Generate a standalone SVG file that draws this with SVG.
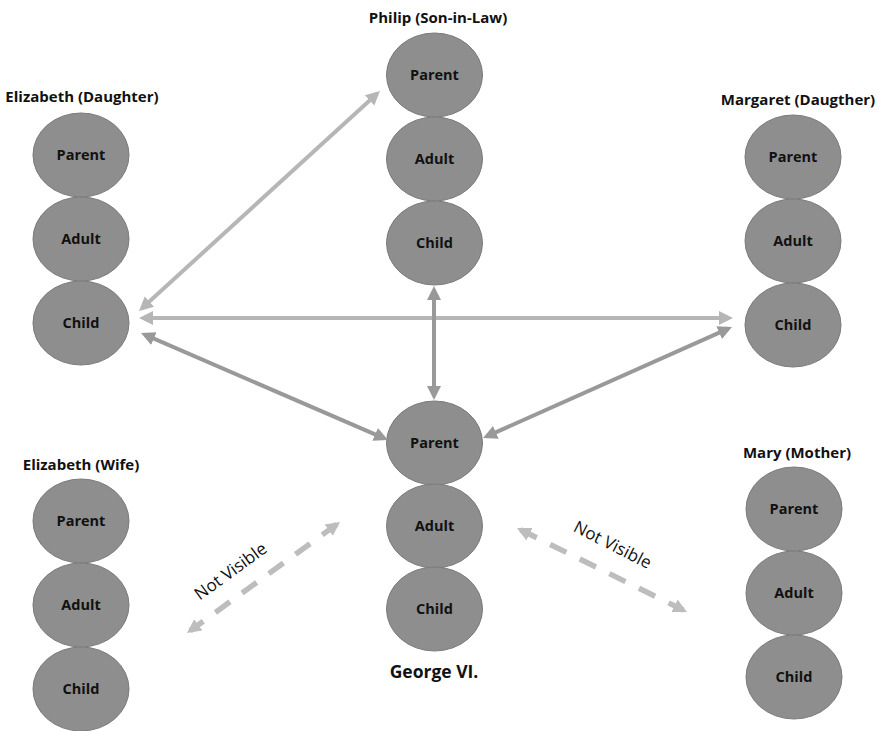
<svg xmlns="http://www.w3.org/2000/svg" width="879" height="731" viewBox="0 0 879 731">
  <style>
    .bg { fill: #ffffff; }
    .ell { fill: #8e8e8e; stroke: #7b7b7b; stroke-width: 1; }
    .lbl { font-family: "Open Sans", "Liberation Sans", sans-serif; font-weight: 700; font-size: 14.5px; fill: #111111; text-anchor: middle; }
    .title { font-family: "Open Sans", "Liberation Sans", sans-serif; font-weight: 700; font-size: 15px; fill: #111111; text-anchor: middle; }
    .big { font-size: 17.5px; }
    .note { font-family: "Open Sans", "Liberation Sans", sans-serif; font-weight: 400; font-size: 17px; fill: #111111; text-anchor: middle; }
    .light { fill: none; stroke: #b6b6b6; stroke-width: 4; marker-start: url(#headLight); marker-end: url(#headLight); }
    .dark { fill: none; stroke: #999999; stroke-width: 4; marker-start: url(#headDark); marker-end: url(#headDark); }
    .dash { fill: none; stroke: #bdbdbd; stroke-width: 5.5; stroke-dasharray: 18 15; marker-start: url(#headDash); marker-end: url(#headDash); }
  </style>
  <defs>
    <marker id="headLight" viewBox="0 0 16 16" markerUnits="userSpaceOnUse" markerWidth="16" markerHeight="16" refX="10" refY="8" orient="auto-start-reverse">
      <path d="M0,1 L14,8 L0,15 Z" fill="#b6b6b6"/>
    </marker>
    <marker id="headDark" viewBox="0 0 16 16" markerUnits="userSpaceOnUse" markerWidth="16" markerHeight="16" refX="10" refY="8" orient="auto-start-reverse">
      <path d="M0,1 L14,8 L0,15 Z" fill="#999999"/>
    </marker>
    <marker id="headDash" viewBox="0 0 16 16" markerUnits="userSpaceOnUse" markerWidth="16" markerHeight="16" refX="10" refY="8" orient="auto-start-reverse">
      <path d="M0,1 L14,8 L0,15 Z" fill="#bdbdbd"/>
    </marker>
  </defs>

  <rect class="bg" x="0" y="0" width="879" height="731"/>

  <!-- Elizabeth (Daughter) -->
  <g id="elizabeth-daughter">
    <text class="title" x="82" y="102">Elizabeth (Daughter)</text>
    <ellipse class="ell" cx="81" cy="155" rx="48" ry="42"/>
    <ellipse class="ell" cx="81" cy="239" rx="48" ry="42"/>
    <ellipse class="ell" cx="81" cy="323" rx="48" ry="42"/>
    <text class="lbl" x="81" y="160">Parent</text>
    <text class="lbl" x="81" y="244">Adult</text>
    <text class="lbl" x="81" y="328">Child</text>
  </g>

  <!-- Philip (Son-in-Law) -->
  <g id="philip">
    <text class="title" x="438" y="23">Philip (Son-in-Law)</text>
    <ellipse class="ell" cx="434.5" cy="75" rx="48" ry="42"/>
    <ellipse class="ell" cx="434.5" cy="159" rx="48" ry="42"/>
    <ellipse class="ell" cx="434.5" cy="243" rx="48" ry="42"/>
    <text class="lbl" x="434.5" y="80">Parent</text>
    <text class="lbl" x="434.5" y="164">Adult</text>
    <text class="lbl" x="434.5" y="248">Child</text>
  </g>

  <!-- Margaret (Daugther) -->
  <g id="margaret">
    <text class="title" x="798" y="105">Margaret (Daugther)</text>
    <ellipse class="ell" cx="793" cy="157" rx="48" ry="42"/>
    <ellipse class="ell" cx="793" cy="241" rx="48" ry="42"/>
    <ellipse class="ell" cx="793" cy="325" rx="48" ry="42"/>
    <text class="lbl" x="793" y="162">Parent</text>
    <text class="lbl" x="793" y="246">Adult</text>
    <text class="lbl" x="793" y="330">Child</text>
  </g>

  <!-- Elizabeth (Wife) -->
  <g id="elizabeth-wife">
    <text class="title" x="81" y="470">Elizabeth (Wife)</text>
    <ellipse class="ell" cx="81" cy="521" rx="48" ry="42"/>
    <ellipse class="ell" cx="81" cy="605" rx="48" ry="42"/>
    <ellipse class="ell" cx="81" cy="689" rx="48" ry="42"/>
    <text class="lbl" x="81" y="526">Parent</text>
    <text class="lbl" x="81" y="610">Adult</text>
    <text class="lbl" x="81" y="694">Child</text>
  </g>

  <!-- George VI. -->
  <g id="george">
    <ellipse class="ell" cx="434.5" cy="443" rx="48" ry="42"/>
    <ellipse class="ell" cx="434.5" cy="526" rx="48" ry="42"/>
    <ellipse class="ell" cx="434.5" cy="609" rx="48" ry="42"/>
    <text class="lbl" x="434.5" y="448">Parent</text>
    <text class="lbl" x="434.5" y="531">Adult</text>
    <text class="lbl" x="434.5" y="614">Child</text>
    <text class="title big" x="434" y="678">George VI.</text>
  </g>

  <!-- Mary (Mother) -->
  <g id="mary">
    <text class="title" x="797" y="458">Mary (Mother)</text>
    <ellipse class="ell" cx="794" cy="509" rx="48" ry="42"/>
    <ellipse class="ell" cx="794" cy="593" rx="48" ry="42"/>
    <ellipse class="ell" cx="794" cy="677" rx="48" ry="42"/>
    <text class="lbl" x="794" y="514">Parent</text>
    <text class="lbl" x="794" y="598">Adult</text>
    <text class="lbl" x="794" y="682">Child</text>
  </g>

  <!-- Connectors -->
  <g id="connectors">
    <line class="light" x1="142" y1="308.3" x2="377" y2="93.7"/>
    <line class="light" x1="143" y1="318" x2="729" y2="318"/>
    <line class="dark" x1="144.7" y1="334.6" x2="384.3" y2="438.4"/>
    <line class="dark" x1="728.3" y1="328.6" x2="486.7" y2="436.4"/>
    <line class="dark" x1="434" y1="290" x2="434" y2="396"/>
    <line class="dash" x1="336.8" y1="524.3" x2="190.2" y2="630.7"/>
    <line class="dash" x1="520.6" y1="529.8" x2="683.4" y2="610.2"/>
    <text class="note" transform="translate(234,576) rotate(-36)">Not Visible</text>
    <text class="note" transform="translate(610,550) rotate(27)">Not Visible</text>
  </g>
</svg>
